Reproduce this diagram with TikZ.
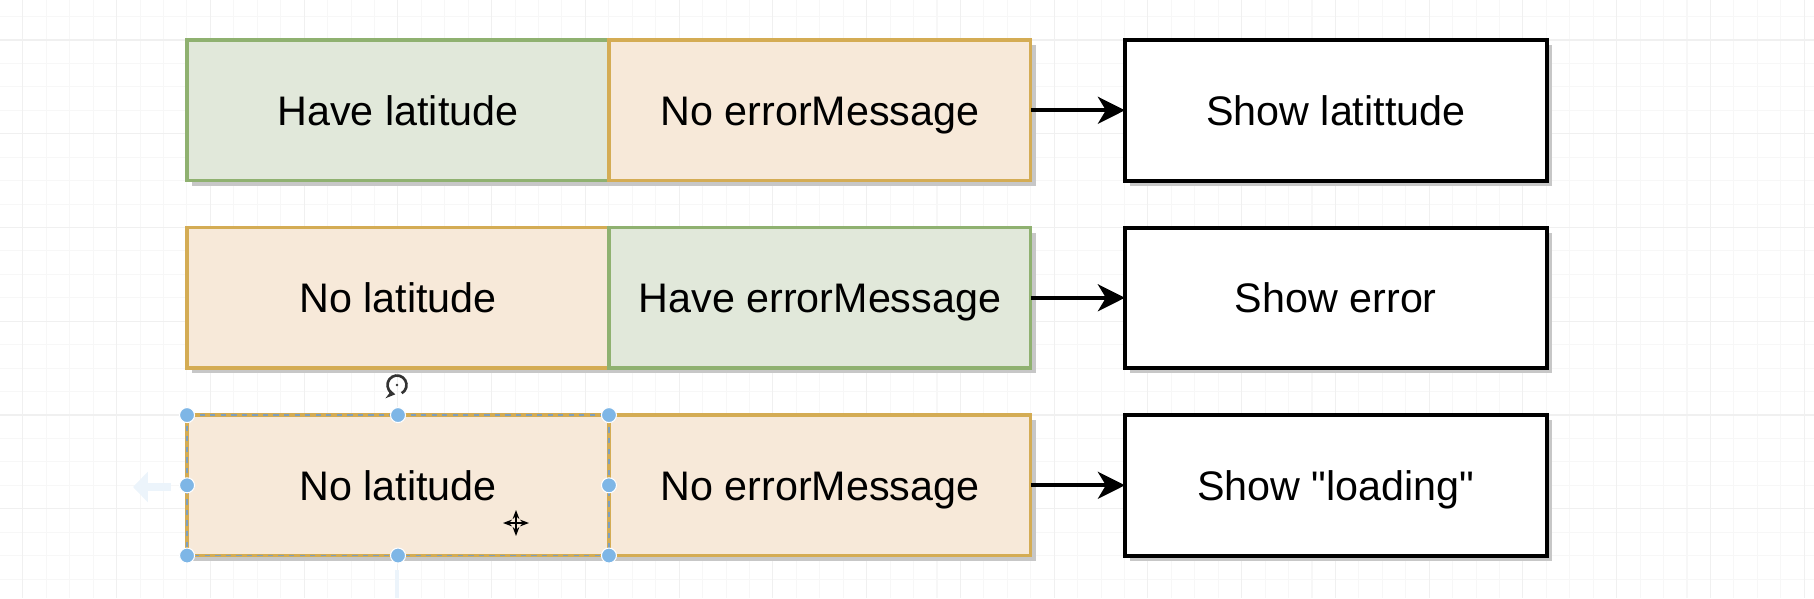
\documentclass[tikz,border=0pt]{standalone}
\usepackage{fontspec}
\setmainfont{Liberation Sans}[Ligatures=TeXOff]
\usetikzlibrary{arrows.meta,positioning,shadows}

\definecolor{okfill}{RGB}{225,232,218}
\definecolor{okline}{RGB}{143,177,112}
\definecolor{nofill}{RGB}{247,233,217}
\definecolor{noline}{RGB}{212,172,84}
\definecolor{handle}{RGB}{126,182,230}

\tikzset{
  minorgrid/.style={black!3, line width=0.6pt},
  majorgrid/.style={black!6, line width=0.6pt},
  cell/.style={draw, line width=1.8pt, minimum width=8.44cm, minimum height=2.81cm,
    inner sep=0pt, outer sep=0pt, font=\fontsize{23.5}{28}\selectfont,
    text height=16.8pt, text depth=0pt,
    drop shadow={shadow xshift=0.1cm, shadow yshift=-0.1cm, fill=black!22, opacity=1}},
  havebox/.style={cell, fill=okfill, draw=okline},
  nobox/.style={cell, fill=nofill, draw=noline},
  resultbox/.style={cell, fill=white, draw=black, line width=2.3pt},
  flow/.style={-{Stealth[length=5.4mm,width=5.4mm,inset=1.6mm]}, line width=2.3pt},
  grip/.style={circle, fill=handle, draw=white, line width=0.6pt, minimum size=0.3cm, inner sep=0pt},
}

\begin{document}
\begin{tikzpicture}[x=0.02cm, y=-0.02cm]
  \useasboundingbox (0,0) rectangle (1814,598);

  % Grid
  \foreach \k in {-1,...,76} \draw[minorgrid] ({22.9+23.4375*\k},0) -- ++(0,598);
  \foreach \k in {-1,...,23} \draw[minorgrid] (0,{40+23.4375*\k}) -- ++(1814,0);
  \foreach \k in {0,...,19} \draw[majorgrid] ({22.9+93.75*\k},0) -- ++(0,598);
  \foreach \k in {0,...,5} \draw[majorgrid] (0,{40+93.75*\k}) -- ++(1814,0);

  % Row 1
  \node[havebox] (lat1) at (398,110.3) {Have latitude};
  \node[nobox, right=0pt of lat1] (err1) {No errorMessage};
  \node[resultbox, right=1.88cm of err1] (show1) {Show latittude};
  \draw[flow] (err1) -- (show1);

  % Row 2
  \node[nobox] (lat2) at (398,297.8) {No latitude};
  \node[havebox, right=0pt of lat2] (err2) {Have errorMessage};
  \node[resultbox, right=1.88cm of err2] (show2) {Show error};
  \draw[flow] (err2) -- (show2);

  % Row 3
  \node[nobox] (lat3) at (398,485.3) {No latitude};
  \node[nobox, right=0pt of lat3] (err3) {No errorMessage};
  \node[resultbox, right=1.88cm of err3] (show3) {Show "loading"};
  \draw[flow] (err3) -- (show3);

  % Selection on lat3
  \draw[handle!60!gray, dashed, line width=0.8pt] (lat3.north west) rectangle (lat3.south east);
  \foreach \a [count=\i] in {north west, north, north east, west, east, south west, south, south east}
    \node[grip] (h\i) at (lat3.\a) {};
  \draw[handle!15, line width=4pt, -{Triangle[length=3mm,width=6mm]}] (171,487) -- (133,487);
  \draw[handle!15, line width=2.5pt] (397,570) -- (397,598);

  % Rotate and move icons
  \draw[black!80, line width=1.5pt, -{Stealth[length=1.8mm,width=2.2mm]}] (397,385) ++(60:9.5) arc (60:-260:9.5);
  \fill[black!80] (397,385) circle (1.3);
  \draw[black, line width=1.5pt, {Stealth[length=1.8mm]}-{Stealth[length=1.8mm]}] (503,523) -- (529,523);
  \draw[black, line width=1.5pt, {Stealth[length=1.8mm]}-{Stealth[length=1.8mm]}] (516,510) -- (516,536);
\end{tikzpicture}
\end{document}
